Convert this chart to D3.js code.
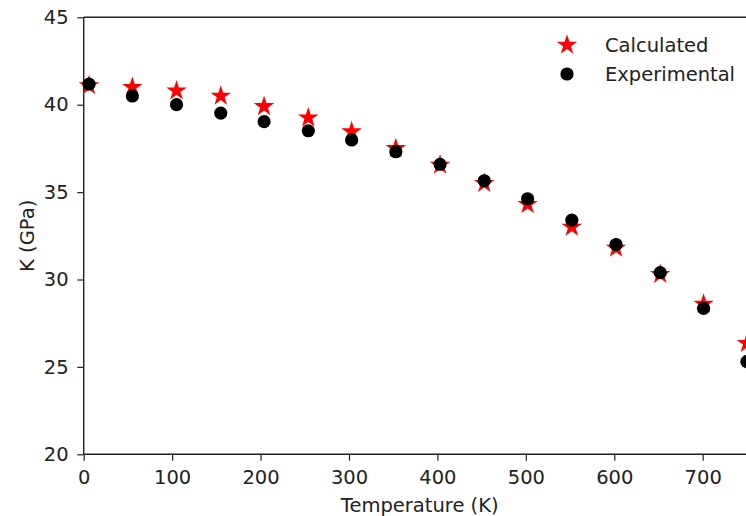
<!DOCTYPE html>
<html><head><meta charset="utf-8">
<script src="https://cdn.jsdelivr.net/npm/d3@7"></script>
<style>body{margin:0;background:#fff;overflow:hidden}svg{display:block}text{font-family:"DejaVu Sans",sans-serif;fill:#222}</style>
</head><body>
<script>
const temperatures = [6,55,105,155,204,254,303,353,403,453,502,552,602,652,701,750];
const calculated   = [41.1,41.0,40.8,40.5,39.9,39.25,38.46,37.5,36.55,35.5,34.3,33.0,31.8,30.3,28.6,26.35];
const experimental = [41.18,40.5,40.0,39.52,39.03,38.51,37.98,37.31,36.59,35.65,34.62,33.4,32.0,30.39,28.35,25.3];
const xTicks = [0,100,200,300,400,500,600,700];
const yTicks = [20,25,30,35,40,45];
const seriesNames = ["Calculated","Experimental"];

(function(){
const W=746,H=516;
const svg=d3.select("body").append("svg").attr("width",W).attr("height",H);
const mL=83.7, mT=17.3, mB=454.3;
const x=d3.scaleLinear().domain([0,700]).range([mL,702.7]);
const mR=x(760);
const y=d3.scaleLinear().domain([20,45]).range([mB,mT]);
const fs=19.5;

const xa=svg.append("g").attr("transform",`translate(0,${mB})`)
  .call(d3.axisBottom(x).tickValues(xTicks).tickSize(6.4).tickPadding(9.6).tickFormat(d3.format("d")));
const ya=svg.append("g").attr("transform",`translate(${mL},0)`)
  .call(d3.axisLeft(y).tickValues(yTicks).tickSize(6.4).tickPadding(8.6).tickFormat(d3.format("d")));
[xa,ya].forEach(a=>{a.select(".domain").remove();a.selectAll("line").attr("stroke","#222").attr("stroke-width",1.2);
  a.selectAll("text").attr("font-size",fs).attr("font-family","DejaVu Sans").attr("fill","#222");});
const sp=(x1,y1,x2,y2)=>svg.append("line").attr("x1",x1).attr("y1",y1).attr("x2",x2).attr("y2",y2).attr("stroke","#222").attr("stroke-width",1.4);
sp(mL,mT,mL,mB); sp(mL,mB,mR,mB); sp(mL,mT,mR,mT); sp(mR,mT,mR,mB);

svg.append("text").attr("x",(mL+mR)/2).attr("y",511.7).attr("text-anchor","middle").attr("font-size",fs).text("Temperature (K)");
svg.append("text").attr("transform",`translate(34,${(mT+mB)/2}) rotate(-90)`).attr("text-anchor","middle").attr("font-size",fs).text("K (GPa)");

const star=d3.symbol().type(d3.symbolStar).size(130);
svg.append("g").selectAll("path").data(temperatures).join("path")
  .attr("d",star).attr("fill","red")
  .attr("transform",(d,i)=>`translate(${x(d)},${y(calculated[i])})`);
svg.append("g").selectAll("circle").data(temperatures).join("circle")
  .attr("cx",d=>x(d)).attr("cy",(d,i)=>y(experimental[i])).attr("r",6.6).attr("fill","black");

const lg=svg.append("g");
lg.append("path").attr("d",star).attr("fill","red").attr("transform","translate(567,45)");
lg.append("circle").attr("cx",567).attr("cy",74).attr("r",6.6).attr("fill","black");
lg.append("text").attr("x",605).attr("y",51.5).attr("font-size",fs).text(seriesNames[0]);
lg.append("text").attr("x",605).attr("y",80.5).attr("font-size",fs).text(seriesNames[1]);
})();
</script>
</body></html>
